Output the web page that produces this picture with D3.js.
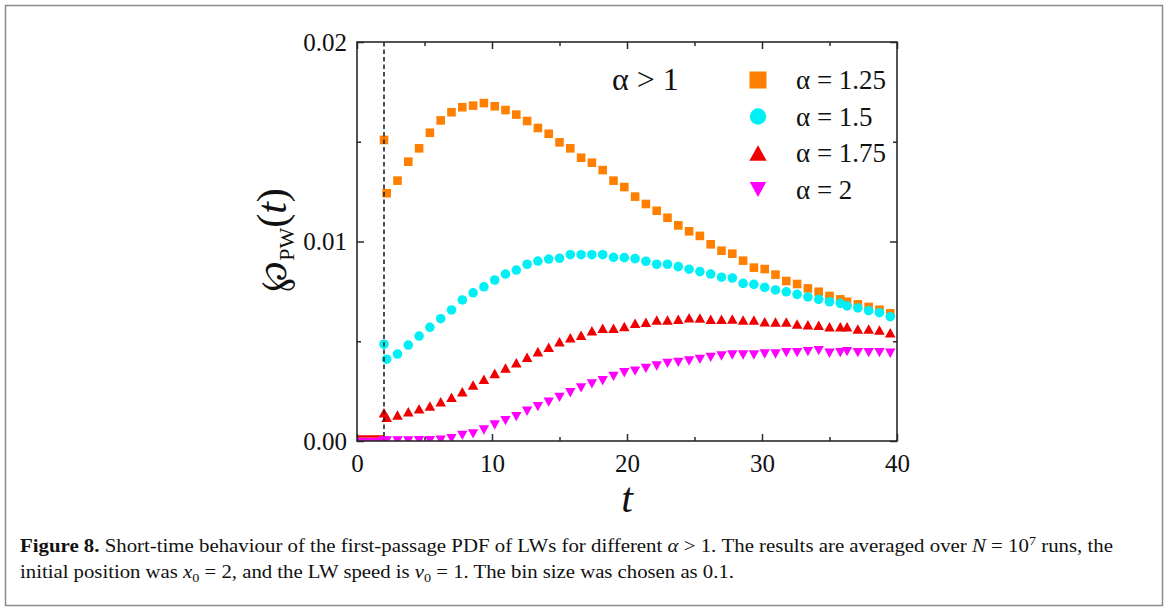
<!DOCTYPE html>
<html><head><meta charset="utf-8">
<script src="https://cdn.jsdelivr.net/npm/d3@7"></script>
<style>
body{margin:0;background:#fff}
svg{display:block}
text{font-family:"Liberation Serif","Times New Roman",serif;fill:#111}
</style>
</head><body>
<svg id="chart" width="1168" height="610"></svg>
<script>
// ---------- data ----------
const tValues = [2.0, 2.2, 3.0, 3.8, 4.6, 5.4, 6.2, 7.0, 7.8, 8.6, 9.4, 10.2, 11.0, 11.8, 12.6, 13.4, 14.2, 15.0, 15.8, 16.6, 17.4, 18.2, 19.0, 19.8, 20.6, 21.4, 22.2, 23.0, 23.8, 24.6, 25.4, 26.2, 27.0, 27.8, 28.6, 29.4, 30.2, 31.0, 31.8, 32.6, 33.4, 34.2, 35.0, 35.8, 36.3, 37.1, 37.9, 38.7, 39.5];
const alpha125 = [0.01509, 0.01242, 0.01305, 0.01400, 0.01467, 0.01545, 0.01607, 0.01648, 0.01673, 0.01681, 0.01694, 0.01678, 0.01659, 0.01636, 0.01604, 0.01569, 0.01540, 0.01497, 0.01467, 0.01420, 0.01395, 0.01358, 0.01305, 0.01273, 0.01225, 0.01188, 0.01154, 0.01119, 0.01081, 0.01051, 0.01028, 0.00986, 0.00954, 0.00939, 0.00904, 0.00869, 0.00862, 0.00834, 0.00802, 0.00787, 0.00765, 0.00748, 0.00727, 0.00710, 0.00698, 0.00685, 0.00672, 0.00658, 0.00640];
const alpha150 = [0.00485, 0.00410, 0.00436, 0.00481, 0.00526, 0.00570, 0.00613, 0.00657, 0.00707, 0.00743, 0.00773, 0.00807, 0.00837, 0.00857, 0.00886, 0.00902, 0.00912, 0.00916, 0.00934, 0.00934, 0.00934, 0.00934, 0.00921, 0.00919, 0.00914, 0.00901, 0.00886, 0.00886, 0.00874, 0.00861, 0.00849, 0.00837, 0.00821, 0.00817, 0.00790, 0.00785, 0.00770, 0.00757, 0.00748, 0.00735, 0.00722, 0.00710, 0.00698, 0.00690, 0.00677, 0.00667, 0.00653, 0.00643, 0.00623];
const alpha175 = [0.00142, 0.00119, 0.00130, 0.00147, 0.00162, 0.00175, 0.00197, 0.00219, 0.00247, 0.00281, 0.00309, 0.00339, 0.00366, 0.00392, 0.00420, 0.00448, 0.00470, 0.00498, 0.00518, 0.00530, 0.00553, 0.00565, 0.00565, 0.00574, 0.00590, 0.00595, 0.00607, 0.00607, 0.00610, 0.00618, 0.00617, 0.00610, 0.00610, 0.00612, 0.00607, 0.00607, 0.00598, 0.00596, 0.00596, 0.00586, 0.00583, 0.00580, 0.00573, 0.00573, 0.00573, 0.00561, 0.00561, 0.00556, 0.00543];
const alpha200 = [0.00000, 0.00000, 0.00000, 0.00000, 0.00001, 0.00002, 0.00004, 0.00012, 0.00028, 0.00036, 0.00055, 0.00080, 0.00102, 0.00122, 0.00149, 0.00172, 0.00195, 0.00219, 0.00242, 0.00266, 0.00286, 0.00302, 0.00324, 0.00342, 0.00350, 0.00364, 0.00376, 0.00389, 0.00394, 0.00401, 0.00409, 0.00419, 0.00426, 0.00431, 0.00431, 0.00431, 0.00436, 0.00436, 0.00443, 0.00443, 0.00448, 0.00453, 0.00440, 0.00443, 0.00448, 0.00443, 0.00443, 0.00443, 0.00440];
const zeroT = [0, 2];             // all series are zero before t = x0 = 2
const x0Line = 2;                  // dashed line at t = x0
const seriesNames = ["α = 1.25", "α = 1.5", "α = 1.75", "α = 2"];
const seriesColors = ["#FF8000", "#00F0F5", "#F00000", "#FF00FF"];
const xMajorTicks = [0, 10, 20, 30, 40];
const xMinorTicks = [5, 15, 25, 35];
const yMajorTicks = [0, 0.01, 0.02];
const yMinorTicks = [0.005, 0.015];

// ---------- setup ----------
const svg = d3.select("#chart");
const L = 357, R = 897, T = 42, B = 441;
const x = d3.scaleLinear().domain([0, 40]).range([L, R]);
const y = d3.scaleLinear().domain([0, 0.02]).range([B, T]);

// outer figure border
svg.append("rect").attr("x", 5.5).attr("y", 5.5).attr("width", 1157).attr("height", 600)
  .attr("fill", "none").attr("stroke", "#8a8a8a").attr("stroke-width", 1.5);

// symbols (bbox-centred triangles)
const triUp = {draw(ctx, size){const s=Math.sqrt(size), h=s*0.9; ctx.moveTo(0,-h/2); ctx.lineTo(s/2,h/2); ctx.lineTo(-s/2,h/2); ctx.closePath();}};
const triDown = {draw(ctx, size){const s=Math.sqrt(size), h=s*0.9; ctx.moveTo(0,h/2); ctx.lineTo(s/2,-h/2); ctx.lineTo(-s/2,-h/2); ctx.closePath();}};
const symTypes = [d3.symbolSquare, d3.symbolCircle, triUp, triDown];
const symSizes = [74, 72, 112, 108];
const legSizes = [290, 210, 300, 270];

svg.append("clipPath").attr("id", "clip").append("rect")
  .attr("x", L).attr("y", T).attr("width", R - L).attr("height", B - T);

const plot = svg.append("g").attr("clip-path", "url(#clip)");

// zero segments before t = 2
plot.append("line").attr("x1", x(zeroT[0])).attr("x2", x(zeroT[1]))
  .attr("y1", y(0) - 4.5).attr("y2", y(0) - 4.5).attr("stroke", seriesColors[2]).attr("stroke-width", 2.5);
plot.append("line").attr("x1", x(zeroT[0])).attr("x2", x(zeroT[1]))
  .attr("y1", y(0) - 1.5).attr("y2", y(0) - 1.5).attr("stroke", seriesColors[3]).attr("stroke-width", 3);

// dashed line at x0
svg.append("line").attr("x1", x(x0Line)).attr("x2", x(x0Line)).attr("y1", y(0.02)).attr("y2", y(0))
  .attr("stroke", "#222").attr("stroke-width", 1.6).attr("stroke-dasharray", "4.5,3");

const allSeries = [alpha125, alpha150, alpha175, alpha200];
allSeries.forEach((vals, i) => {
  const pts = tValues.map((t, k) => ({t, v: vals[k]}));
  plot.append("g").selectAll("path").data(pts).join("path")
    .attr("transform", d => `translate(${x(d.t)},${y(d.v)})`)
    .attr("d", d3.symbol().type(symTypes[i]).size(symSizes[i]))
    .attr("fill", seriesColors[i]);
});

// ---------- axes ----------
const frameColor = "#2a2a2a";
function styleAxis(g){ g.select(".domain").remove(); g.selectAll("line").attr("stroke", frameColor).attr("stroke-width", 1.5); g.selectAll("text").style("font-family", '"Liberation Serif", serif').style("font-size", "25px").attr("fill", "#111"); }

svg.append("g").attr("transform", `translate(0,${B})`)
  .call(d3.axisBottom(x).tickValues(xMajorTicks).tickSize(-7).tickPadding(13).tickFormat(d3.format("d"))).call(styleAxis);
svg.append("g").attr("transform", `translate(0,${B})`)
  .call(d3.axisBottom(x).tickValues(xMinorTicks).tickSize(-4).tickFormat("")).call(styleAxis);
svg.append("g").attr("transform", `translate(0,${T})`)
  .call(d3.axisTop(x).tickValues(xMajorTicks).tickSize(-7).tickFormat("")).call(styleAxis);
svg.append("g").attr("transform", `translate(0,${T})`)
  .call(d3.axisTop(x).tickValues(xMinorTicks).tickSize(-4).tickFormat("")).call(styleAxis);
svg.append("g").attr("transform", `translate(${L},0)`)
  .call(d3.axisLeft(y).tickValues(yMajorTicks).tickSize(-7).tickPadding(10).tickFormat(d3.format(".2f"))).call(styleAxis);
svg.append("g").attr("transform", `translate(${L},0)`)
  .call(d3.axisLeft(y).tickValues(yMinorTicks).tickSize(-4).tickFormat("")).call(styleAxis);
svg.append("g").attr("transform", `translate(${R},0)`)
  .call(d3.axisRight(y).tickValues(yMajorTicks).tickSize(-7).tickFormat("")).call(styleAxis);
svg.append("g").attr("transform", `translate(${R},0)`)
  .call(d3.axisRight(y).tickValues(yMinorTicks).tickSize(-4).tickFormat("")).call(styleAxis);

// frame
svg.append("rect").attr("x", L).attr("y", T).attr("width", R - L).attr("height", B - T)
  .attr("fill", "none").attr("stroke", frameColor).attr("stroke-width", 1.6);

// axis titles
svg.append("text").attr("x", (L + R) / 2).attr("y", 512).attr("text-anchor", "middle")
  .style("font-size", "42px").style("font-style", "italic").text("t");

const yl = svg.append("text").attr("transform", "translate(286,240) rotate(-90)").attr("text-anchor", "middle")
  .style("font-size", "42px");
yl.append("tspan").style("font-family", '"DejaVu Serif", serif').style("font-size", "37px").text("℘");
yl.append("tspan").attr("dy", 8).style("font-size", "22px").text("PW");
yl.append("tspan").attr("dy", -8).text("(");
yl.append("tspan").style("font-style", "italic").text("t");
yl.append("tspan").text(")");

// ---------- legend ----------
svg.append("text").attr("x", 612).attr("y", 90).style("font-size", "32px").text("α > 1");
const legRowsY = [80, 116.5, 153, 189.5];
seriesNames.forEach((name, i) => {
  svg.append("path").attr("transform", `translate(758,${legRowsY[i]})`)
    .attr("d", d3.symbol().type(symTypes[i]).size(legSizes[i])).attr("fill", seriesColors[i]);
  svg.append("text").attr("x", 796).attr("y", legRowsY[i] + 9).style("font-size", "27px").text(name);
});

// ---------- caption ----------
const cap1 = svg.append("text").attr("x", 20).attr("y", 552).style("font-size", "19px")
  .attr("textLength", 1093).attr("lengthAdjust", "spacingAndGlyphs");
cap1.append("tspan").style("font-weight", "bold").text("Figure 8.");
cap1.append("tspan").text(" Short-time behaviour of the first-passage PDF of LWs for different ");
cap1.append("tspan").style("font-style", "italic").text("α");
cap1.append("tspan").text(" >  1. The results are averaged over ");
cap1.append("tspan").style("font-style", "italic").text("N");
cap1.append("tspan").text(" =  10");
cap1.append("tspan").attr("dy", -7).style("font-size", "13px").text("7");
cap1.append("tspan").attr("dy", 7).text(" runs, the");

const cap2 = svg.append("text").attr("x", 20).attr("y", 578).style("font-size", "19px")
  .attr("textLength", 714).attr("lengthAdjust", "spacingAndGlyphs");
cap2.append("tspan").text("initial position was ");
cap2.append("tspan").style("font-style", "italic").text("x");
cap2.append("tspan").attr("dy", 4).style("font-size", "13px").text("0");
cap2.append("tspan").attr("dy", -4).text(" =  2, and the LW speed is ");
cap2.append("tspan").style("font-style", "italic").text("v");
cap2.append("tspan").attr("dy", 4).style("font-size", "13px").text("0");
cap2.append("tspan").attr("dy", -4).text(" =  1. The bin size was chosen as 0.1.");
</script>
</body></html>
